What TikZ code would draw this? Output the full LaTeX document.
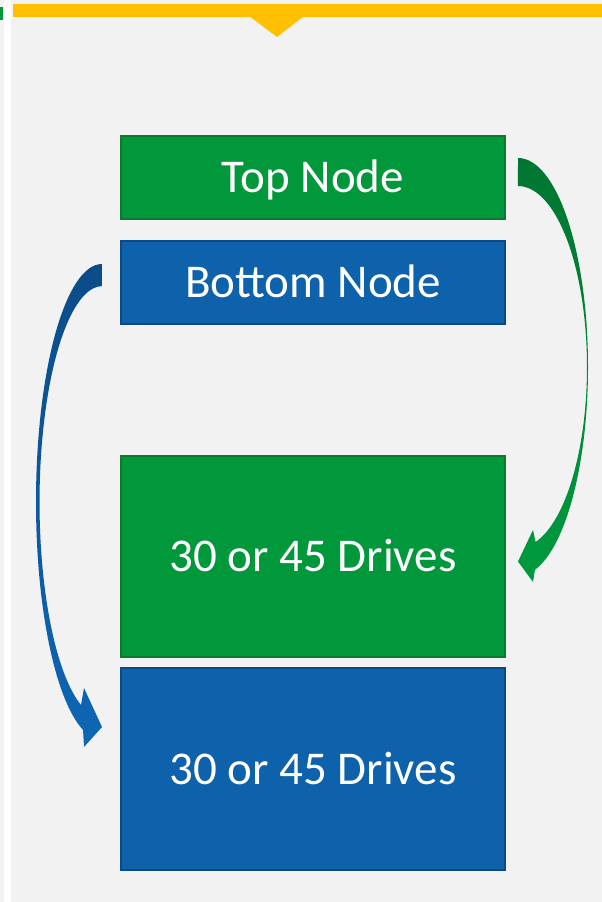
\documentclass[tikz,border=0pt]{standalone}
\usepackage{fontspec}
\setmainfont{Carlito}
\usepackage{xcolor}
\usepackage{tikz}

\definecolor{bggray}{HTML}{F2F2F2}
\definecolor{baryellow}{HTML}{FFC000}
\definecolor{boxgreen}{HTML}{00983A}
\definecolor{edgegreen}{HTML}{0A7A32}
\definecolor{boxblue}{HTML}{0E61AB}
\definecolor{edgeblue}{HTML}{0A4A86}
\definecolor{arrowgreendark}{HTML}{007632}
\definecolor{arrowgreenlight}{HTML}{009A3E}
\definecolor{arrowbluedark}{HTML}{0B4C88}
\definecolor{arrowbluelight}{HTML}{0E66B4}

\tikzset{
    nodebox/.style={rectangle, line width=2pt, text=white, inner sep=0pt,
        minimum width=384pt, text height=30pt, text depth=0pt,
        font=\fontsize{47}{56}\selectfont},
    greenbox/.style={nodebox, fill=boxgreen, draw=edgegreen},
    bluebox/.style={nodebox, fill=boxblue, draw=edgeblue}
}

\begin{document}
\begin{tikzpicture}[x=1pt,y=-1pt]
    % Background
    \useasboundingbox (0,0) rectangle (602,902);
    \fill[bggray] (0,0) rectangle (602,902);
    \fill[white] (4,0) rectangle (11,902);
    \fill[boxgreen] (0,7) rectangle (3,20);
    
    % Top bar
    \fill[baryellow] (13,4) rectangle (602,17);
    \fill[baryellow] (249,16) -- (304,16) -- (277,37) -- cycle;
    
    % Top Node
    \node[greenbox, minimum height=83pt] (topnode) at (313,177.5) {Top Node};
    
    % Bottom Node
    \node[bluebox, minimum height=83pt] (bottomnode) at (313,282.5) {Bottom Node};
    
    % Drives of the top node
    \node[greenbox, minimum height=201pt] (topdrives) at (313,556.5) {30 or 45 Drives};
    
    % Drives of the bottom node
    \node[bluebox, minimum height=202pt] (bottomdrives) at (313,769) {30 or 45 Drives};
    
    % Top Node to its drives
    \coordinate (gtail) at ([xshift=12pt,yshift=19.5pt]topnode.east);
    \coordinate (ghead) at ([xshift=12pt,yshift=-5pt]topdrives.east);
    \shade[top color=arrowgreendark, bottom color=arrowgreenlight]
        (gtail) arc[start angle=-90, end angle=76, x radius=70, y radius=209]
        -- (533,582) -- (ghead) -- (533,530) -- (535.6,542)
        arc[start angle=75.2, end angle=-90, x radius=69, y radius=181]
        -- cycle;
    
    % Bottom Node to its drives
    \coordinate (btail) at ([xshift=-18pt,yshift=18.5pt]bottomnode.west);
    \coordinate (bhead) at ([xshift=-18pt,yshift=42pt]bottomdrives.west);
    \shade[top color=arrowbluedark, bottom color=arrowbluelight]
        (btail) arc[start angle=-90, end angle=-253.3, x radius=66, y radius=238]
        -- (84,747) -- (bhead) -- (84,688) -- (81,705)
        arc[start angle=-250, end angle=-90, x radius=63, y radius=216]
        -- cycle;
    
\end{tikzpicture}
\end{document}
